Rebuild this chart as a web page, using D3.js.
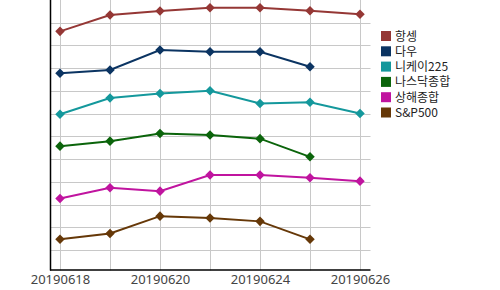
<!DOCTYPE html>
<html><head><meta charset="utf-8">
<script src="https://cdn.jsdelivr.net/npm/d3@7"></script>
<style>body{margin:0;background:#fff;}svg{display:block;}</style>
</head><body><svg id="c" width="500" height="290"></svg>
<script>
const dates = ["20190618","20190619","20190620","20190621","20190624","20190625","20190626"];
const tickLabels = ["20190618","20190620","20190624","20190626"];
const seriesNames = ["항셍","다우","니케이225","나스닥종합","상해종합","S&P500"];
const seriesColors = ["#953735","#0b3462","#14989c","#0b640b","#c0149f","#663808"];
const hangSeng = [10.62,11.34,11.52,11.66,11.66,11.53,11.37];
const dow      = [8.78,8.92,9.80,9.72,9.72,9.06,null];
const nikkei   = [6.97,7.69,7.89,8.01,7.45,7.50,7.01];
const nasdaq   = [5.57,5.79,6.13,6.06,5.90,5.10,null];
const shanghai = [3.27,3.74,3.59,4.30,4.30,4.18,4.03];
const sp500    = [1.47,1.73,2.49,2.41,2.26,1.47,null];
const allSeries = [hangSeng,dow,nikkei,nasdaq,shanghai,sp500];
const gridValues = [1,2,3,4,5,6,7,8,9,10,11];

const svg = d3.select("#c");
const L=50.5, R=370.5, T=0, B=270.5;
const x = d3.scalePoint().domain(dates).range([L-0.5,R-0.5]).padding(0.2);
const y = d3.scaleLinear().domain([0.12,12]).range([B-0.5,T]);

// grid
const g = svg.append("g");
g.selectAll("line.h").data(gridValues).join("line")
  .attr("x1",L).attr("x2",R)
  .attr("y1",d=>Math.round(y(d))+0.5).attr("y2",d=>Math.round(y(d))+0.5)
  .attr("stroke","#c8c8c8").attr("stroke-width",1);
g.selectAll("line.v").data(dates).join("line")
  .attr("y1",T).attr("y2",B)
  .attr("x1",d=>Math.round(x(d))+0.5).attr("x2",d=>Math.round(x(d))+0.5)
  .attr("stroke","#c8c8c8").attr("stroke-width",1);

// axes
const xAxis = d3.axisBottom(x).tickSize(0).tickValues(tickLabels);
const xa = svg.append("g").attr("transform",`translate(0,${B})`).call(xAxis);
xa.select(".domain").remove();
xa.selectAll("text").attr("font-family","'Noto Sans','Liberation Sans',sans-serif")
  .attr("font-size","13px").attr("fill","#444").attr("dy","0.78em");
svg.append("line").attr("x1",L-0.5).attr("x2",R).attr("y1",B-0.5).attr("y2",B-0.5).attr("stroke","#000").attr("stroke-width",1.5);
svg.append("line").attr("x1",L).attr("x2",L).attr("y1",T).attr("y2",B).attr("stroke","#000").attr("stroke-width",1.5);

// lines
const line = d3.line().defined(d=>d[1]!=null).x(d=>x(d[0])).y(d=>y(d[1]));
allSeries.forEach((vals,i)=>{
  const pts = dates.map((d,j)=>[d,vals[j]]);
  svg.append("path").attr("d",line(pts)).attr("fill","none")
    .attr("stroke",seriesColors[i]).attr("stroke-width",2);
  const sym = d3.symbol().type(d3.symbolDiamond2).size(58);
  svg.selectAll(null).data(pts.filter(p=>p[1]!=null)).join("path")
    .attr("d",sym).attr("transform",p=>`translate(${x(p[0])},${y(p[1])})`)
    .attr("fill",seriesColors[i]);
});

// legend
const lg = svg.append("g").attr("transform","translate(381,31)");
seriesNames.forEach((n,i)=>{
  const row = lg.append("g").attr("transform",`translate(0,${i*15.3})`);
  row.append("rect").attr("width",10).attr("height",10).attr("fill",seriesColors[i]);
  row.append("text").attr("x",14).attr("y",9.5).text(n)
    .attr("font-family","'Noto Sans CJK KR','Noto Sans',sans-serif")
    .attr("font-size","12px").attr("fill","#222");
});
</script></body></html>
